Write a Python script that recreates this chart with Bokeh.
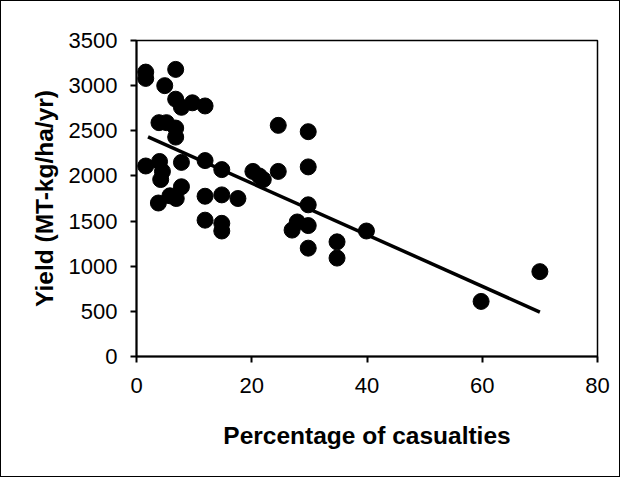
from bokeh.plotting import figure
from bokeh.models import Range1d, FixedTicker
from bokeh.embed import file_html
from bokeh.resources import INLINE

# Data
casualties_pct = [1.6, 1.6, 6.8, 4.9, 6.8, 7.8, 9.7, 11.9, 3.9, 5.2, 6.8, 6.8,
                  1.6, 4.0, 4.5, 7.8, 11.9, 14.8, 4.2, 7.8, 3.8, 5.8, 6.9, 11.9,
                  14.8, 17.6, 11.9, 14.8, 14.8, 20.2, 21.3, 22.0, 24.6, 24.6,
                  29.8, 29.8, 29.8, 27.0, 27.9, 29.8, 29.8, 34.8, 34.8, 39.9,
                  59.8, 70.0]
yield_kg = [3150, 3080, 3180, 3000, 2850, 2760, 2810, 2775, 2590, 2590, 2530, 2430,
            2110, 2160, 2050, 2150, 2170, 2070, 1960, 1880, 1700, 1780, 1750, 1775,
            1790, 1750, 1510, 1475, 1390, 2050, 2000, 1960, 2050, 2560,
            2490, 2100, 1680, 1400, 1490, 1450, 1200, 1270, 1090, 1390,
            610, 940]
trend_x = [2.0, 70.0]
trend_y = [2432, 492]
x_ticks = [0, 20, 40, 60, 80]
y_ticks = [0, 500, 1000, 1500, 2000, 2500, 3000, 3500]
x_title = "Percentage of casualties"
y_title = "Yield (MT-kg/ha/yr)"

FONT = "'Liberation Sans Narrow', 'Arial Narrow', 'Liberation Sans', sans-serif"

p = figure(width=620, height=477, output_backend="svg", toolbar_location=None,
           x_range=Range1d(0, 80), y_range=Range1d(0, 3500),
           min_border_left=135, min_border_right=24, min_border_top=39,
           min_border_bottom=122)
p.styles = {"border": "1.5px solid black", "box-sizing": "border-box"}

p.grid.visible = False
p.outline_line_color = "black"
p.outline_line_width = 1.5

p.scatter(casualties_pct, yield_kg, size=16, color="black")
p.line(trend_x, trend_y, line_color="black", line_width=3.5)

p.xaxis.ticker = FixedTicker(ticks=x_ticks)
p.yaxis.ticker = FixedTicker(ticks=y_ticks)
for ax in (p.xaxis[0], p.yaxis[0]):
    ax.axis_line_color = "black"
    ax.axis_line_width = 2
    ax.major_tick_line_color = "black"
    ax.major_tick_line_width = 2
    ax.major_tick_out = 6
    ax.major_tick_in = 0
    ax.minor_tick_line_color = None
    ax.major_label_text_font = FONT
    ax.major_label_text_font_size = "22px"
    ax.major_label_text_color = "black"
    ax.axis_label_text_font = FONT
    ax.axis_label_text_font_size = "24.5px"
    ax.axis_label_text_font_style = "bold"
    ax.axis_label_text_color = "black"

p.xaxis.axis_label = x_title
p.yaxis.axis_label = y_title
p.xaxis.major_label_standoff = 15
p.yaxis.major_label_standoff = 13
p.xaxis.axis_label_standoff = 26
p.yaxis.axis_label_standoff = 8

open("out.html", "w").write(file_html(p, INLINE))
